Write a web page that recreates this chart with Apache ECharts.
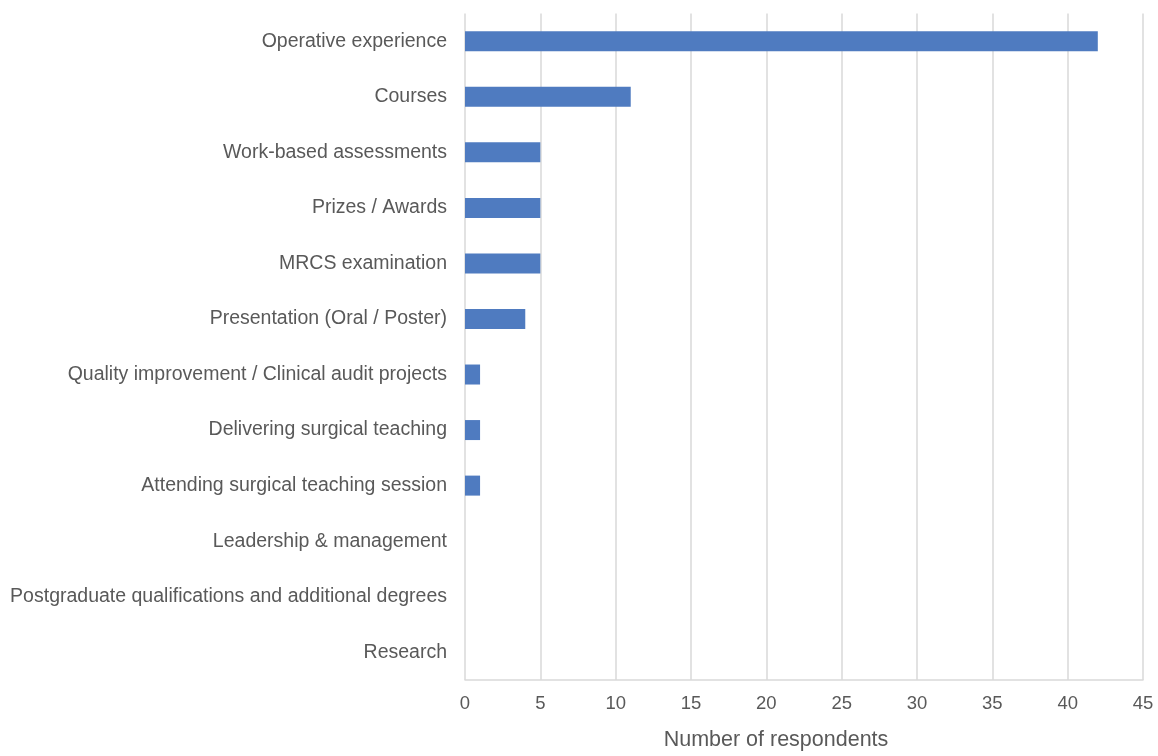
<!DOCTYPE html>
<html>
<head>
<meta charset="utf-8">
<script src="https://cdn.jsdelivr.net/npm/echarts@6/dist/echarts.min.js"></script>
<style>html,body{margin:0;padding:0;background:#fff}#c{width:1158px;height:756px}</style>
</head>
<body>
<div id="c"></div>
<script>
var categories = [
  "Operative experience",
  "Courses",
  "Work-based assessments",
  "Prizes / Awards",
  "MRCS examination",
  "Presentation (Oral / Poster)",
  "Quality improvement / Clinical audit projects",
  "Delivering surgical teaching",
  "Attending surgical teaching session",
  "Leadership & management",
  "Postgraduate qualifications and additional degrees",
  "Research"
];
var respondents = [42, 11, 5, 5, 5, 4, 1, 1, 1, 0, 0, 0];
var xTicks = [0, 5, 10, 15, 20, 25, 30, 35, 40, 45];

var chart = echarts.init(document.getElementById('c'), null, {renderer: 'canvas'});
var font = '"Liberation Sans", Arial, sans-serif';
chart.setOption({
  animation: false,
  grid: {left: 465, right: 15, top: 13.5, bottom: 70, containLabel: false},
  xAxis: {
    type: 'value',
    min: xTicks[0],
    max: xTicks[xTicks.length - 1],
    interval: 5,
    name: 'Number of respondents',
    nameLocation: 'middle',
    nameGap: 49,
    nameTextStyle: {color: '#595959', fontSize: 21.5, fontFamily: font, padding: [0, 56, 0, 0]},
    axisLine: {show: true, lineStyle: {color: '#d9d9d9', width: 1.5}},
    axisTick: {show: false},
    axisLabel: {color: '#595959', fontSize: 18.5, fontFamily: font, margin: 14},
    splitLine: {show: true, lineStyle: {color: '#d9d9d9', width: 1.5}}
  },
  yAxis: {
    type: 'category',
    inverse: true,
    data: categories,
    axisLine: {show: false},
    axisTick: {show: false},
    axisLabel: {color: '#595959', fontSize: 19.5, fontFamily: font, margin: 18}
  },
  series: [{
    type: 'bar',
    data: respondents,
    barWidth: 20,
    itemStyle: {color: '#4f7bc0', borderWidth: 0}
  }]
});
</script>
</body>
</html>
